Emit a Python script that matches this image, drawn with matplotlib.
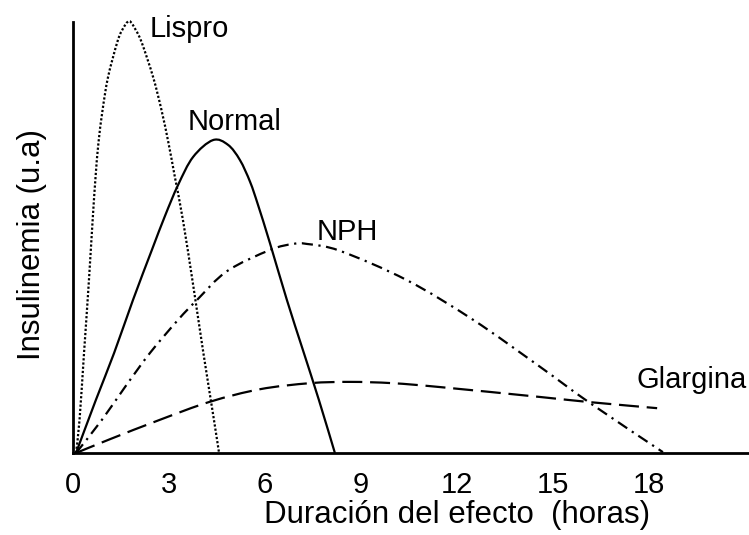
import matplotlib
matplotlib.use("Agg")
import matplotlib.pyplot as plt
from matplotlib.path import Path
from matplotlib.patches import PathPatch

plt.rcParams['font.family'] = ['Liberation Sans', 'DejaVu Sans']

# Data (hours, insulinemia in arbitrary units 0-100)
lispro_x = [0.11, 0.22, 0.36, 0.50, 0.63, 0.72, 0.81, 0.94, 1.11, 1.39, 1.55, 1.77,
            1.98, 2.17, 2.52, 2.78, 3.00, 3.20, 3.45, 3.78, 4.09, 4.42, 4.58]
lispro_y = [0, 7.7, 23.2, 38.5, 54.1, 64.0, 71.9, 79.6, 87.2, 95.1, 98.1, 100.2,
            98.1, 95.1, 87.2, 79.6, 71.9, 64.0, 54.1, 38.5, 23.2, 7.7, 0]

normal_x = [0.11, 0.73, 1.30, 1.89, 2.48, 2.89, 3.30, 3.77, 4.39, 4.86, 5.23,
            5.55, 5.80, 6.17, 6.70, 7.20, 7.70, 8.20]
normal_y = [0, 12.3, 23.2, 35.5, 47.1, 55.0, 62.2, 68.7, 72.6, 71.5, 68.0,
            62.9, 57.5, 48.7, 35.5, 23.9, 12.3, 0]

nph_x = [0.11, 0.92, 1.64, 2.42, 3.30, 3.89, 4.83, 6.17, 6.89, 7.33, 8.36,
         10.45, 12.52, 14.61, 16.17, 18.45]
nph_y = [0, 7.7, 15.3, 23.2, 30.9, 35.5, 42.2, 47.1, 48.5, 48.5, 46.9,
         40.1, 30.9, 20.0, 11.6, 0.2]

glargina_x = [0.11, 1.17, 2.73, 4.30, 5.86, 7.42, 8.67, 10.0, 11.48, 14.61, 16.17, 18.27]
glargina_y = [0, 3.2, 7.7, 11.9, 14.8, 16.2, 16.5, 16.2, 15.3, 13.0, 11.8, 10.4]

x_ticks = [0, 3, 6, 9, 12, 15, 18]
x_label = "Duración del efecto  (horas)"
y_label = "Insulinemia (u.a)"


def smooth_path(xs, ys):
    """Smooth curve through the given points (Catmull-Rom as cubic Beziers)."""
    pts = list(zip(xs, ys))
    n = len(pts)
    verts = [pts[0]]
    codes = [Path.MOVETO]
    for i in range(n - 1):
        p0 = pts[i - 1] if i > 0 else pts[i]
        p1 = pts[i]
        p2 = pts[i + 1]
        p3 = pts[i + 2] if i + 2 < n else pts[i + 1]
        c1 = (p1[0] + (p2[0] - p0[0]) / 6, p1[1] + (p2[1] - p0[1]) / 6)
        c2 = (p2[0] - (p3[0] - p1[0]) / 6, p2[1] - (p3[1] - p1[1]) / 6)
        verts += [c1, c2, p2]
        codes += [Path.CURVE4] * 3
    return Path(verts, codes)


W, H = 749, 535
fig = plt.figure(figsize=(W / 100, H / 100), dpi=100)
ax = fig.add_axes([72.5 / W, (H - 453) / H, (W - 72.5) / W, (453 - 22) / H])

lw = 1.6
series = [
    (lispro_x, lispro_y, (0, (1, 0.9))),
    (normal_x, normal_y, '-'),
    (nph_x, nph_y, (0, (5, 2.5, 1, 2.5))),
    (glargina_x, glargina_y, (0, (9, 3.5))),
]
for xs, ys, ls in series:
    patch = PathPatch(smooth_path(xs, ys), fill=False, edgecolor='black',
                      lw=lw, linestyle=ls, clip_on=False, capstyle='butt')
    ax.add_patch(patch)

fs = 21
ax.text(2.42, 96.5, "Lispro", fontsize=fs, va='baseline', ha='left')
ax.text(3.61, 74.9, "Normal", fontsize=fs, va='baseline', ha='left')
ax.text(7.64, 49.4, "NPH", fontsize=fs, va='baseline', ha='left')
ax.text(17.64, 15.1, "Glargina", fontsize=fs, va='baseline', ha='left')

ax.set_xlim(0, (W - 72.5) / 32.0)
ax.set_ylim(0, 100)
ax.set_xticks(x_ticks)
ax.set_xticklabels([str(t) for t in x_ticks])
ax.set_yticks([])
ax.tick_params(axis='x', length=0, pad=13, labelsize=fs)
for s in ['top', 'right']:
    ax.spines[s].set_visible(False)
for s in ['left', 'bottom']:
    ax.spines[s].set_linewidth(2)

fig.text(457 / W, 12 / H, x_label, fontsize=22.5, ha='center', va='baseline')
fig.text(32 / W, 1 - 245 / H, y_label, fontsize=22.5, rotation=90, ha='center', va='center')

fig.savefig("out.png", dpi=100)
